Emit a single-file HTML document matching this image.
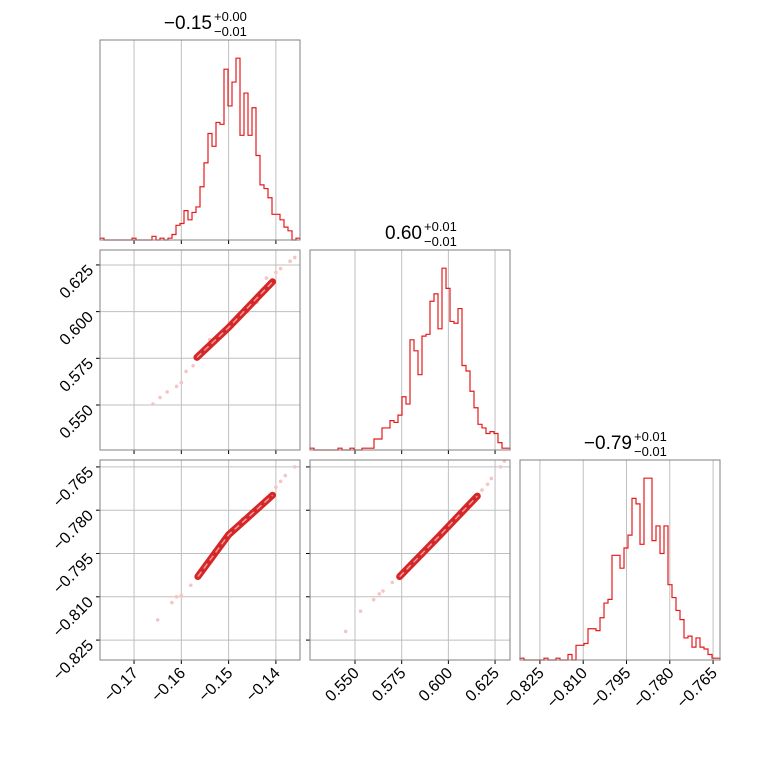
<!DOCTYPE html>
<html><head><meta charset="utf-8"><style>
body{margin:0;background:#fff}
svg text{font-family:"Liberation Sans","DejaVu Sans",sans-serif}
</style></head><body>
<svg id="c" width="760" height="760"></svg>
<script>
const hist0=[1,0,0,0,0,0,0,0,1,0,0,0,0,2,0,1,0,1,3,8,9,16,11,15,18,29,42,58,51,64,63,93,73,86,99,57,80,57,72,46,30,28,23,14,14,11,7,5,0,1];
const hist1=[1,0,0,0,0,0,0,1,0,0,1,0,0,1,1,1,6,6,12,12,16,15,19,29,25,60,54,41,62,63,81,85,66,99,88,70,69,77,46,43,32,23,14,12,9,10,9,4,1,1];
const hist2=[1,0,0,0,0,0,1,0,0,1,0,0,3,0,8,8,9,17,17,16,23,31,33,57,57,50,61,68,88,85,63,99,99,65,73,58,73,41,34,27,22,12,13,7,12,7,6,3,1,1];
const ranges=[[-0.1772,-0.1349],[0.5259,0.633],[-0.8319,-0.7626]];
const ticks0=[-0.17,-0.16,-0.15,-0.14];
const ticks1=[0.55,0.575,0.6,0.625];
const ticks2=[-0.825,-0.81,-0.795,-0.78,-0.765];
const tickLabels0=["−0.17","−0.16","−0.15","−0.14"];
const tickLabels1=["0.550","0.575","0.600","0.625"];
const tickLabels2=["−0.825","−0.810","−0.795","−0.780","−0.765"];
const titles=[["−0.15","+0.00","−0.01"],["0.60","+0.01","−0.01"],["−0.79","+0.01","−0.01"]];
const line10=[[-0.1567,0.5755],[-0.1500,0.5915],[-0.1407,0.6160]];
const line20=[[-0.1565,-0.8030],[-0.1500,-0.7885],[-0.1407,-0.7748]];
const line21=[[0.5739,-0.8030],[0.5950,-0.7890],[0.6155,-0.7751]];
const scat10=[[-0.1660,0.5505],[-0.1645,0.5540],[-0.1630,0.5570],[-0.1610,0.5600],[-0.1600,0.5620],[-0.1590,0.5680],[-0.1575,0.5710],[-0.1420,0.6180],[-0.1400,0.6210],[-0.1390,0.6230],[-0.1370,0.6270],[-0.1360,0.6290],[-0.1460,0.6000],[-0.1540,0.5850],[-0.1440,0.6050]];
const scat20=[[-0.1650,-0.8180],[-0.1620,-0.8120],[-0.1610,-0.8100],[-0.1600,-0.8095],[-0.1580,-0.8060],[-0.1400,-0.7720],[-0.1390,-0.7700],[-0.1380,-0.7680],[-0.1360,-0.7650],[-0.1530,-0.7940],[-0.1470,-0.7830]];
const scat21=[[0.5450,-0.8220],[0.5530,-0.8150],[0.5600,-0.8110],[0.5630,-0.8090],[0.5650,-0.8080],[0.5700,-0.8050],[0.6180,-0.7730],[0.6210,-0.7710],[0.6230,-0.7690],[0.6280,-0.7650],[0.6300,-0.7630],[0.5850,-0.7950]];
const NS="http://www.w3.org/2000/svg";
const svg=document.getElementById('c');
function mk(t,a,p){const e=document.createElementNS(NS,t);for(const k in a)e.setAttribute(k,a[k]);(p||svg).appendChild(e);return e;}
const PX=[100,310,520],PY=[40,250,460],S=200;
function sx(c,v){const r=ranges[c];return PX[c]+(v-r[0])/(r[1]-r[0])*S;}
function sy(rw,v){const r=ranges[rw];return PY[rw]+S-(v-r[0])/(r[1]-r[0])*S;}
const tks=[ticks0,ticks1,ticks2],tls=[tickLabels0,tickLabels1,tickLabels2];
function panel(rw,c,diag){
 const g=mk('g',{});
 
 
 tks[c].forEach(t=>{const x=sx(c,t);const l=mk('line',{x1:x,x2:x,y1:PY[rw],y2:PY[rw]+S,stroke:'#bfbfbf','stroke-width':1},g);
  mk('line',{x1:x,x2:x,y1:PY[rw]+S,y2:PY[rw]+S+4,stroke:'#000','stroke-width':1},g);});
 if(!diag){tks[rw].forEach(t=>{const y=sy(rw,t);const l=mk('line',{x1:PX[c],x2:PX[c]+S,y1:y,y2:y,stroke:'#bfbfbf','stroke-width':1},g);
  mk('line',{x1:PX[c]-4,x2:PX[c],y1:y,y2:y,stroke:'#000','stroke-width':1},g);});}
 return g;
}
function frame(rw,c){const f=mk('rect',{x:PX[c],y:PY[rw],width:S,height:S,fill:'none',stroke:'#808080','stroke-width':1});}
const hists=[hist0,hist1,hist2];
for(let i=0;i<3;i++){
 const g=panel(i,i,true);
 const h=hists[i],mx=Math.max(...h)*1.1,bw=S/h.length;
 let d='M'+PX[i]+','+(PY[i]+S);
 h.forEach((v,k)=>{const y=PY[i]+S-v/mx*S;d+=' L'+(PX[i]+k*bw)+','+y+' L'+(PX[i]+(k+1)*bw)+','+y;});
 d+=' L'+(PX[i]+S)+','+(PY[i]+S);
 const p=mk('path',{d:d,fill:'none',stroke:'#e41a1c','stroke-width':1.2},g);
 
 
 frame(i,i);
 const t=titles[i],cx=PX[i]+S/2;
 const tt=mk('text',{x:cx+12,y:PY[i]-11,'font-size':19,'text-anchor':'end'});tt.textContent=t[0];
 
 const sp=mk('text',{x:cx+14,y:PY[i]-19,'font-size':13});sp.textContent=t[1];
 
 const sb=mk('text',{x:cx+14,y:PY[i]-4,'font-size':13});sb.textContent=t[2];
 
}
function pair(rw,c,ln,sc){
 const g=panel(rw,c,false);
 sc.forEach(p=>{const e=mk('circle',{cx:sx(c,p[0]),cy:sy(rw,p[1]),r:1.8,fill:'#f6c4c4'},g);});
 const pts=ln.map(p=>sx(c,p[0])+','+sy(rw,p[1])).join(' ');
 const a=mk('polyline',{points:pts,fill:'none',stroke:'#d62728','stroke-width':7,'stroke-linecap':'round','stroke-linejoin':'round'},g);
 
 const b=mk('polyline',{points:pts,fill:'none',stroke:'#ee9a9a','stroke-width':1.5,'stroke-dasharray':'6 4'},g);
 
 frame(rw,c);
}
pair(1,0,line10,scat10);pair(2,0,line20,scat20);pair(2,1,line21,scat21);
for(let c=0;c<3;c++){tks[c].forEach((t,k)=>{const x=sx(c,t)+5,y=PY[2]+S+14;
 const e=mk('text',{x:x,y:y,'font-size':16,'text-anchor':'end',transform:'rotate(-45 '+x+' '+y+')'});e.textContent=tls[c][k];
 });}
for(let rw=1;rw<3;rw++){tks[rw].forEach((t,k)=>{const y=sy(rw,t)+2,x=PX[0]-10;
 const e=mk('text',{x:x,y:y+6,'font-size':16,'text-anchor':'end',transform:'rotate(-45 '+x+' '+y+')'});e.textContent=tls[rw][k];
 });}
</script>
</body></html>
